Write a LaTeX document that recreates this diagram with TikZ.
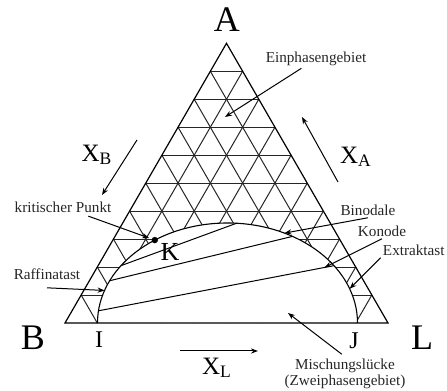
\documentclass[tikz,border=0pt]{standalone}
\usepackage{fontspec}
\setmainfont{Liberation Serif}
\usetikzlibrary{arrows.meta, calc}
\tikzstyle{note} = [font=\fontsize{7.6}{8}\selectfont, text=black!85, inner sep=1pt]
\tikzstyle{corner} = [font=\fontsize{18}{20}\selectfont, inner sep=0pt]
\tikzstyle{endpt} = [font=\fontsize{12}{13}\selectfont, inner sep=0pt]
\tikzstyle{molfrac} = [font=\fontsize{12.5}{14}\selectfont, inner sep=0pt]
\tikzstyle{gridline} = [line width=0.5pt, black!85]
\tikzstyle{arrow} = [line width=0.5pt, -{Stealth[length=3.5pt, width=2.6pt]}]

\begin{document}
\begin{tikzpicture}[x=0.5pt, y=-0.5pt]
    \useasboundingbox (0,0) rectangle (447,391);
    % Corners of the triangle and centre of the binodal
    \coordinate (vB) at (65,323);
    \coordinate (vL) at (388,323);
    \coordinate (vA) at (226.5,43.3);
    \coordinate (C) at (227.5,323);

    % Grid
    \foreach \i [evaluate=\i as \j using 10-\i] in {1,...,9} {
        \draw[gridline] ($(vB)!\i/10!(vL)$) -- ($(vB)!\i/10!(vA)$);
        \draw[gridline] ($(vB)!\i/10!(vL)$) -- ($(vL)!\j/10!(vA)$);
        \draw[gridline] ($(vB)!\i/10!(vA)$) -- ($(vL)!\i/10!(vA)$);
    }

    % Miscibility gap
    \fill[white] ($(C)+(65pt,0pt)$) arc[start angle=0, end angle=180, x radius=65pt, y radius=50pt] -- cycle;
    \draw[line width=0.55pt] ($(C)+(65pt,0pt)$) arc[start angle=0, end angle=180, x radius=65pt, y radius=50pt];
    \draw[line width=0.6pt] (vB) -- (vL) -- (vA) -- cycle;

    % Points on the binodal
    \coordinate (I) at ($(C)+(180:65pt and 50pt)$);
    \coordinate (J) at ($(C)+(0:65pt and 50pt)$);
    \coordinate (kp) at ($(C)+(124:65pt and 50pt)$);
    \coordinate (r1) at ($(C)+(173:65pt and 50pt)$);
    \coordinate (e1) at ($(C)+(35:65pt and 50pt)$);
    \coordinate (r2) at ($(C)+(155:65pt and 50pt)$);
    \coordinate (e2) at ($(C)+(60:65pt and 50pt)$);
    \coordinate (r3) at ($(C)+(145:65pt and 50pt)$);
    \coordinate (e3) at ($(C)+(86:65pt and 50pt)$);

    % Tie lines
    \draw[line width=0.5pt] (r1) -- (e1);
    \draw[line width=0.5pt] (r2) -- (e2);
    \draw[line width=0.5pt] (r3) -- (e3);
    \fill (kp) circle (1.6pt);

    % Nodes
    \node[corner] (A) at (227,20) {A};
    \node[corner] (B) at (33,338) {B};
    \node[corner] (L) at (422,338) {L};
    \node[endpt] (labI) at (99,340) {I};
    \node[endpt] (labJ) at (354,341) {J};
    \node[font=\fontsize{13}{14}\selectfont, inner sep=0pt] (labK) at (170,252) {K};
    \node[molfrac] (xB) at (97,155) {X\textsubscript{B}};
    \node[molfrac] (xA) at (356,157) {X\textsubscript{A}};
    \node[molfrac] (xL) at (217,368) {X\textsubscript{L}};
    \node[note] (einph) at (316,59) {Einphasengebiet};
    \node[note] (kritP) at (63,207) {kritischer Punkt};
    \node[note] (binod) at (368,210) {Binodale};
    \node[note] (konode) at (382,231) {Konode};
    \node[note, anchor=east] (extr) at (447,250) {Extraktast};
    \node[note] (raff) at (47,274) {Raffinatast};
    \node[note, align=center] (misch) at (345,374) {Mischungslücke\\(Zweiphasengebiet)};

    % Arrows
    \coordinate (einphTip) at (225,117);
    \coordinate (binodTip) at ($(C)+(64:65pt and 50pt)$);
    \coordinate (konodeTip) at ($(r1)!0.96!(e1)$);
    \coordinate (extrTip) at ($(C)+(20:65pt and 50pt)$);
    \coordinate (raffTip) at ($(C)+(161:65pt and 50pt)$);
    \coordinate (mischTip) at (288,313);
    \draw[arrow] (einph) -- (einphTip);
    \draw[arrow, shorten <=2pt, shorten >=3pt] (kritP) -- (kp);
    \draw[arrow] (binod.south) -- (binodTip);
    \draw[arrow] (konode.south) -- (konodeTip);
    \draw[arrow] (extr.south west) -- (extrTip);
    \draw[arrow] ([yshift=-3pt]raff.south) -- (raffTip);
    \draw[arrow, shorten <=2pt] (misch.north) -- (mischTip);

    % Composition directions
    \coordinate (xBtail) at (137,140);
    \coordinate (xBhead) at (102,195);
    \coordinate (xAtail) at (338,182);
    \coordinate (xAhead) at (302,117);
    \coordinate (xLtail) at (180,351);
    \coordinate (xLhead) at (258,351);
    \draw[arrow] (xBtail) -- (xBhead);
    \draw[arrow] (xAtail) -- (xAhead);
    \draw[arrow] (xLtail) -- (xLhead);
\end{tikzpicture}
\end{document}
